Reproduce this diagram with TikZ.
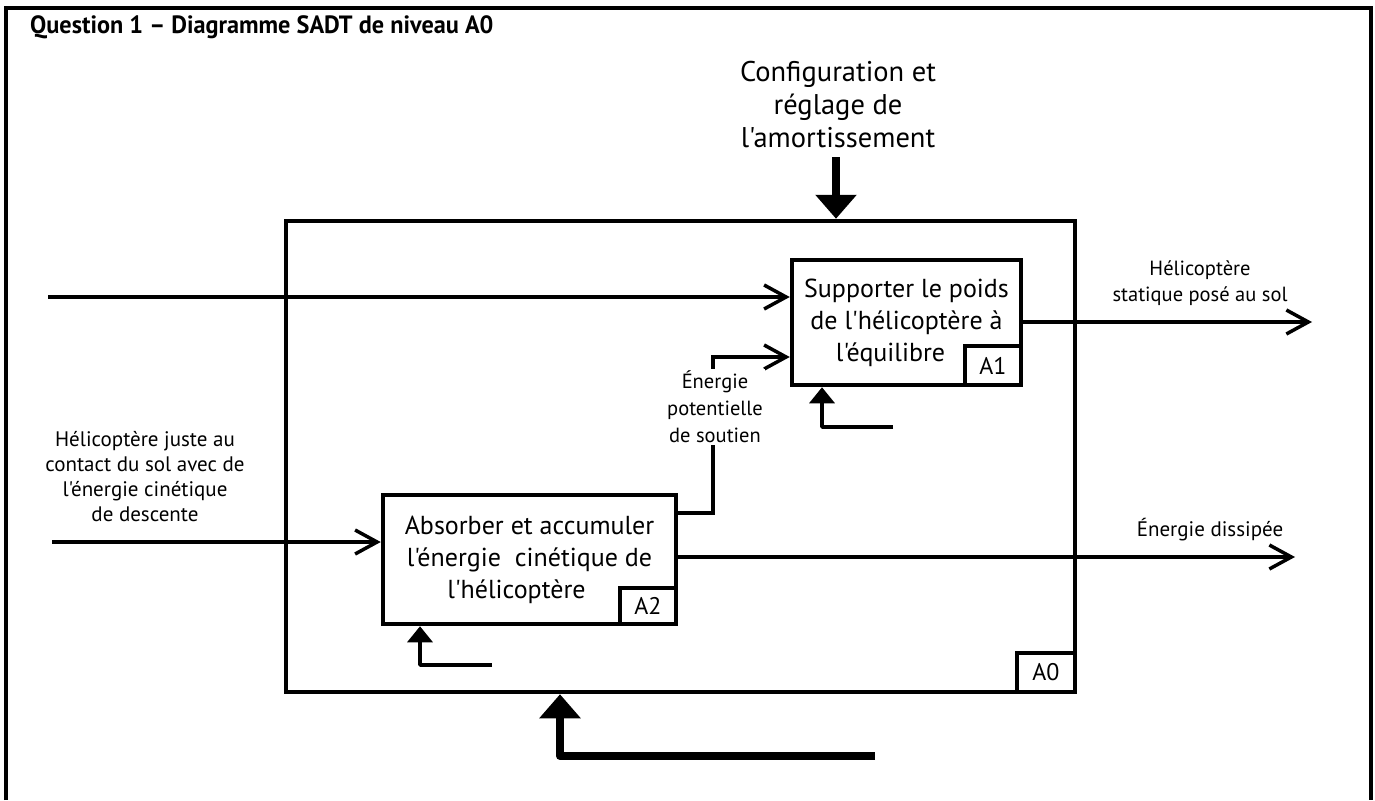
\documentclass[tikz,border=0pt]{standalone}
\usepackage{fontspec}
\setmainfont[Ligatures=TeXOff]{PT Sans}
\newfontfamily\titlefont[FakeStretch=0.97]{PT Sans}
\usetikzlibrary{arrows.meta}
\begin{document}
\begin{tikzpicture}[x=1pt,y=-1pt,
  box/.style={draw,line width=4.5pt,inner sep=0pt,align=center,font=\fontsize{26}{32}\selectfont},
  tag/.style={draw,line width=4pt,inner sep=0pt,font=\fontsize{24}{28}\selectfont},
  lbl/.style={align=center,inner sep=0pt,font=\fontsize{21}{25}\selectfont},
  flow/.style={line width=3.5pt,-{Straight Barb[length=22pt,width=24pt]}},
  thick arrow/.style={line width=8pt,line join=round,-{Triangle[length=24pt,width=40pt]}},
  small arrow/.style={line width=3.5pt,line join=round,-{Triangle[length=16pt,width=25pt]}}]
\useasboundingbox (0,0) rectangle (1375,800);
% outer frame
\draw[line width=4pt] (6,800) -- (6,8) -- (1371,8) -- (1371,800);
\node[anchor=west,inner sep=0pt,font=\titlefont\bfseries\fontsize{25}{28}\selectfont] (title) at (30,27) {Question 1 – Diagramme SADT de niveau A0};
% boxes
\node[box,minimum width=789pt,minimum height=471pt] (A0) at (680.5,456.5) {};
\node[tag,minimum width=58pt,minimum height=39pt] (t0) at (1046,672.5) {A0};
\node[box,minimum width=229pt,minimum height=125pt] (A1) at (906.5,322.5) {Supporter le poids\\de l'hélicoptère à\\l'équilibre\hspace*{32pt}};
\node[tag,minimum width=56pt,minimum height=39pt] (t1) at (993,365.5) {A1};
\node[box,minimum width=293pt,minimum height=129pt] (A2) at (529.5,559.5) {Absorber et accumuler\\l'énergie~ cinétique de\\l'hélicoptère\hspace*{26pt}};
\node[tag,minimum width=56pt,minimum height=36pt] (t2) at (648,606) {A2};
% coordinates
\coordinate (in1) at (48,297);
\coordinate (in2) at (52,542);
\coordinate (e1) at (713,513);
\coordinate (e2) at (713,357);
\coordinate (out1) at (1312,322);
\coordinate (out2) at (1295,557);
\coordinate (c0) at (836,157);
\coordinate (m0) at (875,756);
\coordinate (m0b) at (560,756);
\coordinate (m1) at (893,427);
\coordinate (m1b) at (822,427);
\coordinate (m2) at (492,665);
\coordinate (m2b) at (420,665);
% connectors
\draw[flow] (in1) -- (in1 -| A1.west);
\draw[flow] (in2) -- (in2 -| A2.west);
\draw[flow] (e1 -| A2.east) -- (e1) -- (e2) -- (e2 -| A1.west);
\draw[flow] (out1 -| A1.east) -- (out1);
\draw[flow] (out2 -| A2.east) -- (out2);
\draw[thick arrow] (c0) -- (c0 |- A0.north);
\draw[thick arrow] (m0) -- (m0b) -- (m0b |- A0.south);
\draw[small arrow] (m1) -- (m1b) -- (m1b |- A1.south);
\draw[small arrow] (m2) -- (m2b) -- (m2b |- A2.south);
% labels
\node[lbl,font=\fontsize{28.5}{33}\selectfont] (lc0) at (838,105) {Configuration et\\réglage de\\l'amortissement};
\node[lbl] (lin2) at (145,477) {Hélicoptère juste au\\contact du sol avec de\\l'énergie cinétique\\de descente};
\node[lbl,fill=white,inner sep=2pt,font=\fontsize{20.5}{27}\selectfont] (le) at (715,407) {Énergie\\potentielle\\de soutien};
\node[lbl,font=\fontsize{20.5}{26}\selectfont] (lout1) at (1200,283) {Hélicoptère\\statique posé au sol};
\node[lbl] (lout2) at (1210,530) {Énergie dissipée};
\end{tikzpicture}
\end{document}
